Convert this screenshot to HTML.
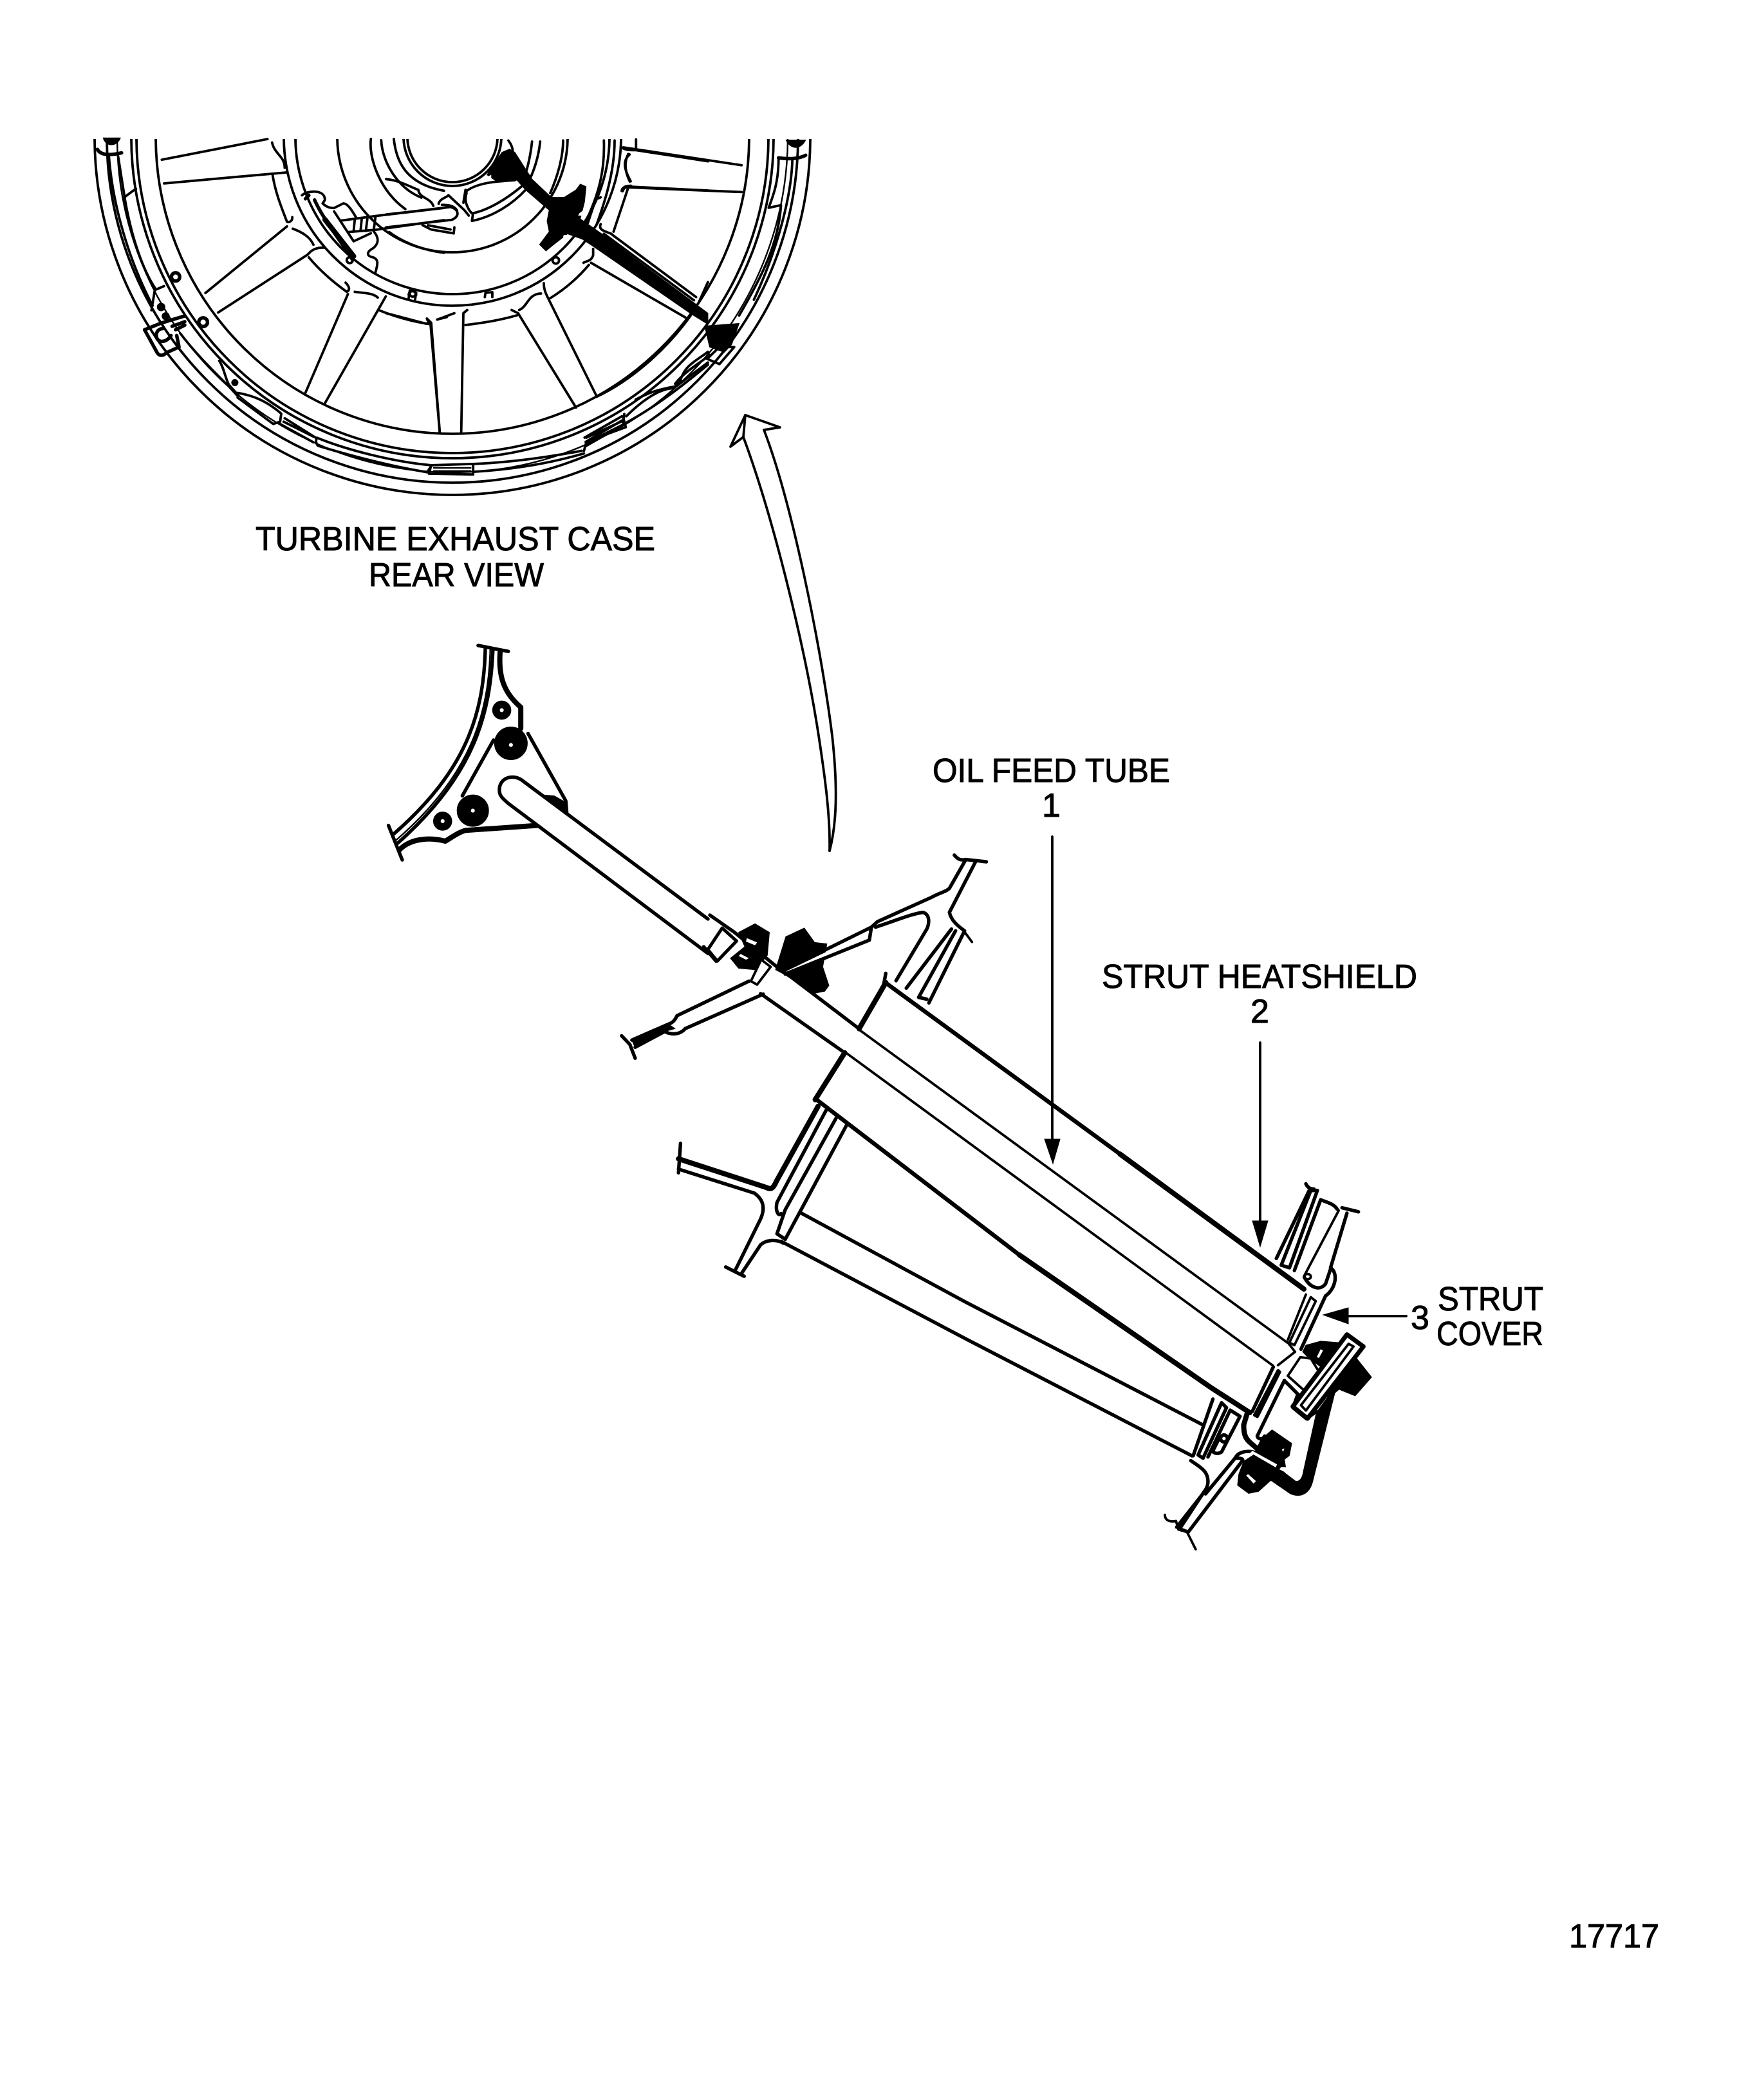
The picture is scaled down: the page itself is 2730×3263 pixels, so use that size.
<!DOCTYPE html>
<html><head><meta charset="utf-8"><title>Turbine exhaust case</title>
<style>
html,body{margin:0;padding:0;background:#fff}
svg{display:block}
svg *{vector-effect:non-scaling-stroke}
.l{fill:none;stroke:#000;stroke-width:3.8;stroke-linecap:round;stroke-linejoin:round}
.t{fill:none;stroke:#000;stroke-width:2.4;stroke-linecap:round;stroke-linejoin:round}
.m{fill:none;stroke:#000;stroke-width:5.4;stroke-linecap:round;stroke-linejoin:round}
.b{fill:none;stroke:#000;stroke-width:8;stroke-linecap:round;stroke-linejoin:round}
.w{fill:#fff;stroke:#000;stroke-width:3.8;stroke-linejoin:round}
.k{fill:#000;stroke:#000;stroke-width:1}
.ww{fill:#fff;stroke:none}
text{font-family:"Liberation Sans",Arial,sans-serif;font-size:52px;fill:#000;stroke:#000;stroke-width:1}
</style></head><body>
<svg xmlns="http://www.w3.org/2000/svg" width="2730" height="3263" viewBox="0 0 2730 3263">
<defs><clipPath id="top"><rect x="0" y="216" width="2730" height="700"/></clipPath></defs>
<rect width="2730" height="3263" fill="#fff"/>

<!-- concentric rings of rear view -->
<g clip-path="url(#top)">
<circle class="l" cx="703" cy="213" r="556"/>
<circle class="l" cx="703" cy="213" r="537"/>
<circle class="t" cx="703" cy="213" r="521"/>
<circle class="l" cx="703" cy="213" r="499"/>
<circle class="l" cx="703" cy="213" r="491"/>
<circle class="l" cx="703" cy="213" r="461"/>
<circle class="l" cx="703" cy="213" r="262"/>
<circle class="l" cx="703" cy="213" r="244"/>
<circle class="l" cx="703" cy="213" r="179"/>
<circle class="l" cx="703" cy="213" r="70"/>
<circle class="l" cx="703" cy="213" r="76"/>
</g>

<!-- left quadrant details -->
<g transform="translate(130,200) scale(.357)">
<path class="l" d="M110,120 C125,320 190,560 300,770"/>
<path class="l" d="M150,120 L180,310 C210,480 260,620 315,700 L350,685"/>
<path class="l" d="M175,300 L215,270 L228,262"/>
<path class="m" d="M60,90 C70,110 100,120 165,105"/>
<path class="k" d="M85,40 C95,80 145,80 160,40 Z"/>
<path class="l" d="M340,135 L800,45 M350,238 L885,190"/>
<path class="l" d="M820,60 C830,110 875,120 875,170"/>
<path class="l" d="M822,200 C835,280 860,340 885,405 C895,410 910,400 908,385"/>
<path class="l" d="M885,425 L530,715 M910,435 C950,450 985,470 1000,505"/>
<path class="l" d="M1050,518 C1010,515 990,530 975,548 L585,800"/>
<path class="l" d="M980,560 C1030,620 1090,670 1145,710 C1165,700 1150,680 1140,670"/>
<path class="l" d="M1150,720 L965,1150 M1180,710 C1220,715 1260,715 1280,735"/>
<path class="l" d="M1315,730 L1050,1195 M1285,790 C1360,820 1430,840 1505,850 L1495,830"/>
<path class="l" d="M1510,855 L1550,1325 M1540,830 L1580,820"/>
<!-- clevis -->
<path class="m" d="M265,875 L340,845 L440,815 M265,875 L320,975 C330,990 345,990 360,975 L415,950 L405,900"/>
<path class="m" d="M345,870 C320,870 310,895 320,915 C335,935 365,925 380,900 M385,860 L440,840 M400,875 L440,855"/>
<circle class="k" cx="337" cy="776" r="17"/><circle class="k" cx="357" cy="816" r="16"/>
<circle class="m" cx="400" cy="645" r="18"/><circle class="m" cx="520" cy="842" r="19"/>
<path class="l" d="M295,790 L310,700 M420,890 C480,970 550,1040 615,1105 M590,1010 C610,1040 615,1080 630,1110"/>
<circle class="k" cx="658" cy="1105" r="14"/>
<path class="m" d="M625,1110 L670,1160"/>
<path class="l" d="M670,1150 C730,1160 790,1180 860,1240 L855,1275 L825,1285 L670,1170"/>
<path class="l" d="M875,1260 L1010,1345 M855,1285 L1000,1365 M870,1275 L1000,1340"/>
<path class="l" d="M1015,1345 C1150,1400 1350,1450 1515,1465 L1495,1495 C1340,1470 1150,1420 1020,1380 C1010,1370 1010,1355 1015,1345 Z"/>
<path class="l" d="M1250,45 C1240,130 1290,270 1400,350"/>
<path class="l" d="M1295,50 C1300,150 1370,260 1470,300"/>
<path class="l" d="M1350,45 C1360,140 1400,240 1568,270"/>
<!-- clamp and oil tube -->
<path class="l" d="M950,290 C970,270 1050,260 1050,310 L1040,325 C1060,345 1080,345 1090,345 L1130,325 C1150,325 1170,360 1185,385"/>
<path class="m" d="M965,305 L980,290 M1005,310 C1040,390 1120,490 1170,570"/>
<path class="b" d="M1050,395 L1175,555"/>
<circle class="l" cx="1158" cy="572" r="13"/>
<path class="l" d="M1090,360 L1175,490 L1250,455 M1120,400 L1270,380 L1568,345 M1150,450 L1270,440 L1568,398 M1270,385 L1262,445 M1180,395 L1175,445 M1210,395 L1205,445 M1235,390 L1228,445"/>
<path class="l" d="M1265,450 C1285,475 1285,500 1260,520 C1225,540 1235,555 1260,560 C1285,570 1280,590 1270,625"/>
<path class="l" d="M1330,450 C1390,495 1480,530 1568,540"/>
<circle class="l" cx="1432" cy="718" r="13"/>
</g>

<!-- top right flange -->
<g transform="translate(100,180) scale(.7653,.4082)">
<path class="k" d="M1465,92 C1475,130 1495,130 1505,92 Z"/>
<path class="m" d="M1450,160 C1470,165 1490,165 1505,150"/>
<path class="l" d="M1450,165 C1450,250 1440,300 1430,350 L1455,340 C1450,480 1420,600 1370,760"/>
<path class="l" d="M1478,170 C1476,300 1450,500 1400,700"/>
<path class="l" d="M1135,120 L1375,188 M1145,145 C1135,180 1140,220 1148,250 M1140,272 L1375,290"/>
<path class="m" d="M1133,285 C1135,272 1140,268 1150,268"/>
<path class="k" d="M1300,800 L1370,790 L1355,870 L1340,900 L1310,880 Z"/>
<path class="l" d="M1330,880 L1360,880 L1330,945 L1305,925 Z"/>
<path class="l" d="M1240,1020 C1260,970 1300,930 1310,910 M1160,1080 C1190,1050 1210,1040 1240,1030"/>
<path class="l" d="M1135,1150 L1140,1185 L1060,1240 L1055,1275"/>
<path class="l" d="M1060,1225 L1135,1160 M1060,1245 L1135,1175"/>
<path class="l" d="M830,1325 C900,1320 980,1300 1050,1275 M830,1355 C920,1345 990,1320 1055,1285"/>
<path class="l" d="M745,1330 L740,1362 L830,1365 L830,1325 Z"/>
<path class="t" d="M750,1340 L825,1340 M750,1352 L825,1352"/>
</g>

<!-- centre right of hub -->
<g transform="translate(600,200) scale(.3333)">
<path class="k" d="M575,95 L600,110 L680,235 L770,320 L830,320 L885,285 L905,258 L932,270 L925,340 L905,420 L1005,490 L1500,860 L1500,912 L1420,862 L960,545 L915,515 L845,490 L775,545 L745,570 L715,540 L760,480 L750,430 L760,380 L650,285 L610,240 L515,245 L470,215 L540,110 Z"/>
<path class="ww" d="M470,225 L490,215 L490,232 Z M900,395 L925,375 L915,405 L895,405 Z M828,495 L845,495 L840,510 L825,505 Z"/>
<path class="l" d="M1055,495 L1445,785 M1015,490 L1435,800"/>
<path class="l" d="M1000,445 C990,470 1010,475 1050,490 M1060,480 C1090,390 1120,300 1130,270 M1098,290 C1100,272 1115,270 1135,270 L1500,288"/>
<path class="l" d="M1100,88 C1110,98 1130,100 1165,100 L1500,152 M1165,50 L1165,95 M1135,120 C1100,150 1110,190 1140,245"/>
<path class="l" d="M1015,55 C1020,200 990,310 925,445 M975,335 L940,440 M1065,55 C1065,200 1020,340 980,450 M1000,320 L975,330"/>
<path class="l" d="M680,60 C675,110 665,160 650,210 M718,60 C712,120 695,180 670,235"/>
<path class="l" d="M825,55 C825,130 800,220 765,300"/>
<path class="l" d="M570,55 C585,75 590,90 590,105"/>
<path class="l" d="M375,300 C360,340 385,380 400,395 C480,380 570,320 630,270 M405,395 L400,430 C500,410 590,350 650,285 M375,290 C430,250 520,245 600,240"/>
<path class="l" d="M0,400 L300,365 C340,375 345,410 305,425 L0,460"/>
<path class="l" d="M245,350 C250,325 285,320 290,310 L365,380 L385,405 M260,355 C290,355 315,358 330,380"/>
<path class="l" d="M170,450 L210,470 L315,488 L318,460 M195,450 L300,470"/>
<path class="l" d="M150,285 C155,325 205,320 220,360 M370,285 L360,345 M0,235 C60,240 110,270 150,285"/>
<circle class="l" cx="791" cy="614" r="15"/>
<path class="l" d="M920,625 C935,615 955,620 965,590 L965,560 M945,635 C890,700 830,750 765,790 M735,720 C735,750 745,770 755,790 L980,1245"/>
<path class="l" d="M585,845 L615,860 L885,1300 M620,845 C660,830 660,770 722,768"/>
<path class="l" d="M370,915 C460,905 540,890 610,870"/>
<path class="l" d="M378,845 L360,860 L350,1415 M190,885 L210,905 L250,1415 M238,890 L318,860"/>
<path class="l" d="M0,860 L190,910"/>
<path class="l" d="M955,625 L1395,880 M1420,870 C1300,1040 1130,1180 980,1250"/>
<path class="l" d="M110,755 L105,790 M140,765 L135,795 M460,785 L463,765 L495,762 L495,785"/>
<path class="l" d="M105,775 A17,17 0 1 1 140,775"/>
<path class="l" d="M1500,715 L1455,815"/>
<path class="l" d="M1500,1040 C1450,1080 1390,1100 1370,1180 L1340,1210 C1280,1210 1200,1260 1120,1340 M1340,1210 L1500,1090"/>
<path class="l" d="M1110,1330 L1105,1380 L930,1480 M925,1440 L1100,1340 M930,1460 L1100,1360 M1120,1370 C1250,1300 1380,1200 1500,1100"/>
</g>

<!-- curved hollow arrow -->
<path class="l" d="M1155,679 L1158,645 L1135,694 L1155,679 C1200,800 1250,1000 1272,1143 C1283,1215 1290,1270 1289,1322"/>
<path class="l" d="M1158,645 L1212,664 L1187,668 C1230,780 1275,1000 1293,1143 C1302,1225 1300,1280 1289,1322"/>

<!-- labels -->
<text x="397" y="855" textLength="621" lengthAdjust="spacingAndGlyphs">TURBINE EXHAUST CASE</text>
<text x="573" y="911" textLength="272" lengthAdjust="spacingAndGlyphs">REAR VIEW</text>
<text x="1449" y="1215" textLength="369" lengthAdjust="spacingAndGlyphs">OIL FEED TUBE</text>
<text x="1619" y="1269">1</text>
<text x="1712" y="1535" textLength="490" lengthAdjust="spacingAndGlyphs">STRUT HEATSHIELD</text>
<text x="1943" y="1589">2</text>
<text x="2192" y="2065">3</text>
<text x="2234" y="2036" textLength="164" lengthAdjust="spacingAndGlyphs">STRUT</text>
<text x="2232" y="2090" textLength="166" lengthAdjust="spacingAndGlyphs">COVER</text>
<text x="2438" y="3026" textLength="140" lengthAdjust="spacingAndGlyphs">17717</text>

<!-- leader arrows -->
<path class="l" d="M1635,1300 L1635,1775"/><path class="k" d="M1623,1770 L1647,1770 L1636,1808 Z"/>
<path class="l" d="M1958,1620 L1958,1900"/><path class="k" d="M1946,1897 L1970,1897 L1958,1937 Z"/>
<path class="l" d="M2090,2045 L2185,2045"/><path class="k" d="M2056,2043 L2095,2032 L2095,2057 Z"/>

<!-- triangular bracket and oil tube start -->
<g transform="translate(300,780) scale(.5102)">
<path class="m" d="M868,437 L960,455"/>
<path class="m" d="M890,445 C885,650 830,820 610,1012"/>
<path class="t" d="M905,450 C900,640 850,830 618,1030"/>
<path class="m" d="M913,452 C905,640 860,830 622,1040"/>
<path class="b" d="M935,458 C930,530 945,580 998,625 L998,690"/>
<path class="m" d="M1020,705 L1135,910 L1138,945 M915,725 L820,895"/>
<path class="m" d="M595,985 L637,1090"/>
<path class="b" d="M628,1060 C660,1025 720,1020 768,1033 C790,1020 810,1005 830,1000 L1050,985"/>
<circle class="k" cx="940" cy="634" r="28"/><circle class="ww" cx="940" cy="634" r="6"/>
<circle class="k" cx="968" cy="735" r="50"/><circle class="ww" cx="968" cy="740" r="6"/>
<circle class="k" cx="852" cy="940" r="48"/><circle class="ww" cx="852" cy="940" r="6"/>
<circle class="k" cx="760" cy="972" r="28"/><circle class="ww" cx="760" cy="972" r="6"/>
<path class="k" d="M1065,892 L1100,895 L1135,915 L1140,945 Z"/>
<path class="ww" d="M1568,1270 L1005,850 C975,825 930,840 933,880 C933,895 945,905 960,918 L1568,1375 Z"/>
<path class="m" d="M1568,1270 L1005,850 C975,825 930,840 933,880 C933,895 945,905 960,918 L1568,1375"/>
</g>

<!-- upper tube, flanges, collar -->
<g transform="translate(580,980) scale(.6378,.4464)">
<path class="m" d="M820,990 L880,1050 L985,1172 M805,1100 L835,1150"/>
<path class="w" style="stroke-width:5" d="M850,1035 L815,1110 L838,1150 L885,1080 Z"/>
<path class="k" d="M890,1050 L930,1020 L965,1050 L960,1130 L930,1180 L890,1175 L870,1140 L905,1100 Z"/>
<path class="ww" d="M910,1070 L935,1085 L930,1095 L908,1082 Z M895,1125 L915,1140 L908,1145 L890,1132 Z"/>
<path class="k" d="M1005,1065 L1050,1035 L1075,1085 L1105,1090 L1095,1170 L1110,1235 L1100,1255 L1075,1262 L1000,1195 L980,1180 Z"/>
<path class="ww" d="M1002,1188 L1205,1048 L1210,1060 L1008,1198 Z"/>
<path class="w" d="M945,1145 L968,1170 L935,1232 L920,1220 Z"/>
<!-- lower-left flange stub -->
<path class="m" d="M915,1220 L740,1340 C735,1355 730,1365 718,1370 L630,1425"/>
<path class="m" d="M950,1265 L760,1385 C745,1410 722,1405 710,1395 L638,1450"/>
<path class="k" d="M630,1425 L718,1368 L735,1385 L710,1395 L638,1452 Z"/>
<path class="m" d="M605,1410 L625,1440 L638,1488"/>
</g>
<g transform="translate(1000,1300) scale(.6378,.574)">
<path class="m" d="M757,50 C765,60 770,65 785,62 L835,68"/>
<path class="m" d="M785,62 L745,140 C735,150 725,150 700,165 L570,230"/>
<path class="m" d="M810,65 L745,205 C750,230 770,245 782,255 L695,450"/>
<path class="l" d="M780,255 L800,285"/>
<path class="m" d="M565,245 C620,225 650,210 680,205 C700,210 695,240 690,250 L615,390"/>
<path class="m" d="M750,250 L640,410 M760,255 L670,435 L690,440"/>
<path class="m" d="M570,230 L555,245 L550,280 L345,372 M555,245 L345,360"/>
<path class="m" d="M345,368 L525,520 M285,425 L490,585"/>
<path class="b" d="M590,395 L525,520 M490,585 L418,712"/>
<path class="m" d="M590,370 L585,400"/>
<!-- lower flange -->
<path class="m" d="M90,830 L85,910"/>
<path class="b" d="M85,872 L300,950 C315,960 320,940 325,930 L425,730"/>
<path class="m" d="M85,900 L270,965 C295,985 295,1010 285,1035 L225,1170 M240,1180 L285,1105 C300,1090 325,1090 340,1100"/>
<path class="m" d="M445,740 L325,990 C320,1015 330,1030 335,1020 M470,760 L345,1010 M495,780 L345,1090 L325,1075 L345,1010 M200,1165 L245,1190"/>
</g>

<!-- main tube thin edges, heat shield edges (native coordinates) -->
<path class="l" d="M1335,1600 L2000,2086"/>
<path class="l" d="M1312,1634 L1978,2122"/>
<path class="b" style="stroke-width:6.5" d="M1376,1527 L1740,1793"/>
<path class="b" d="M1740,1793 L2026,2003"/>
<path class="b" style="stroke-width:6.5" d="M1268,1708 L1584,1950"/>
<path class="b" d="M1584,1950 L1883,2157 L1942,2195"/>

<!-- lower strut lines -->
<path class="m" d="M1245,1885 L1500,2023 L1869,2214"/>
<path class="m" d="M1214,1929 L1500,2080 L1852,2262"/>

<!-- right end upper flange -->
<g transform="translate(1700,1800) scale(.5102,.4145)">
<path class="m" d="M645,95 C650,110 660,115 670,115 M755,185 L805,200"/>
<path class="m" d="M655,120 L555,375 M680,120 L595,410 L570,400 L660,120 Z M690,155 L610,420 M690,155 C710,165 730,170 740,190"/>
<path class="l" d="M745,195 L640,440"/>
<path class="m" d="M770,205 L720,410 C745,430 735,490 705,515 L630,715"/>
<path class="m" d="M640,445 C660,490 690,495 705,470 L720,415"/>
<circle class="l" cx="650" cy="443" r="10"/>
<path class="l" d="M660,520 L595,690 L610,700 L675,535 Z M645,510 L590,680"/>
<!-- cap and plate -->
<path class="l" d="M590,690 L612,725 L560,775"/>
<path class="w" d="M628,745 L660,750 L685,800 L640,870 L590,815 Z"/>
<path class="k" d="M645,700 L690,685 L745,690 L700,790 L655,750 L635,725 Z"/>
<path class="ww" d="M678,745 L690,715 L697,720 L685,748 Z"/>
<path class="k" d="M800,750 L845,820 L795,890 L745,865 L700,900 L780,780 Z"/>
<path class="w" style="stroke-width:7" d="M770,660 L820,705 L650,975 L605,930 Z"/>
<path class="l" d="M775,695 L790,705 L645,945 L630,925 Z"/>
</g>

<!-- right end lower flange and bracket -->
<g transform="translate(1500,1950) scale(.3827)">
<path class="k" d="M1500,560 L1570,500 L1570,440 L1425,640 L1372,880 C1368,905 1358,922 1340,918 L1290,880 L1240,915 L1320,970 C1370,990 1400,960 1410,920 Z"/>
<path class="m" d="M1005,585 L925,815 M1040,600 L945,812 L965,825 L1060,620 Z M1075,630 L985,820 M1075,630 L1115,655 L1040,800 C1025,810 1005,805 1005,795 L1030,745"/>
<circle class="m" cx="1050" cy="745" r="14"/>
<path class="m" d="M915,835 C960,865 985,880 985,920 C985,940 975,955 960,975 L858,1105"/>
<path class="m" d="M970,960 L870,1112 L905,1125 L1125,835 C1130,825 1110,825 1095,825 C1110,795 1150,795 1170,800 L1265,862"/>
<path class="m" d="M1095,825 L975,970"/>
<path class="l" d="M810,1055 C810,1080 835,1085 855,1080 L865,1115 L900,1125 L935,1195"/>
<path class="m" d="M1250,455 L1165,635 M1275,475 L1185,655 L1175,650 L1270,470 M1295,510 L1185,735 C1185,745 1205,755 1215,735"/>
<path class="b" d="M1130,690 C1130,725 1135,745 1160,765 L1270,860"/>
<path class="b" d="M1130,690 L1145,640"/>
<path class="k" d="M1245,710 L1325,765 L1315,815 L1295,830 L1300,860 L1260,860 L1175,800 L1200,750 Z"/>
<path class="ww" d="M1165,795 L1265,850 L1260,865 L1155,805 Z M1285,790 L1295,785 L1290,800 Z"/>
<path class="k" d="M1130,838 L1110,890 L1105,935 L1150,968 L1190,960 L1240,915 L1295,882 L1262,865 L1170,812 Z"/>
<path class="ww" d="M1140,895 L1148,890 L1180,918 L1170,928 Z"/>
<path class="m" d="M1295,510 L1350,565 L1330,620 L1385,665 L1425,635"/>
</g>
</svg>
</body></html>
